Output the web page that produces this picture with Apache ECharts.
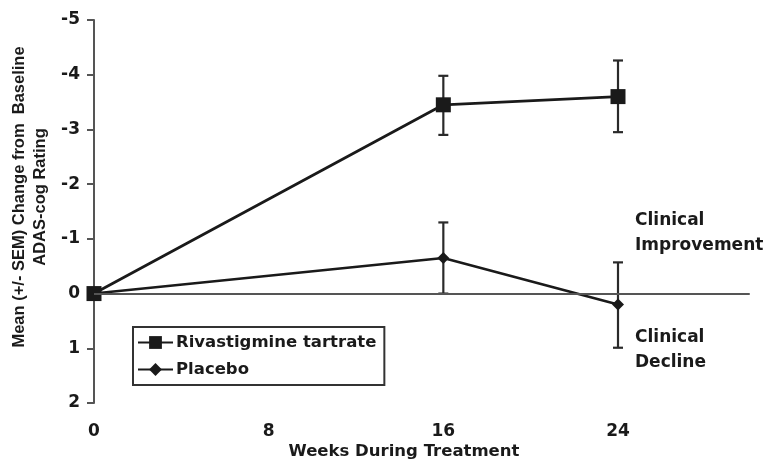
<!DOCTYPE html>
<html>
<head>
<meta charset="utf-8">
<script src="https://cdn.jsdelivr.net/npm/echarts@6/dist/echarts.min.js"></script>
<style>html,body{margin:0;padding:0;background:#fff}#c{width:772px;height:461px}</style>
</head>
<body>
<div id="c"></div>
<script>
// ---- data ----
var weeks = [0, 16, 24];
var xTicks = [0, 8, 16, 24];
var yTicks = [-5, -4, -3, -2, -1, 0, 1, 2];
var seriesNames = ['Rivastigmine tartrate', 'Placebo'];
var rivMean = [0, -3.45, -3.6];
var rivErrTop = [null, -3.98, -4.26];
var rivErrBottom = [null, -2.9, -2.95];
var plaMean = [0, -0.65, 0.2];
var plaErrTop = [null, -1.3, -0.57];
var plaErrBottom = [null, 0.0, 0.99];
var yAxisTitle = ['Mean (+/- SEM) Change from  Baseline', 'ADAS-cog Rating'];
var xAxisTitle = 'Weeks During Treatment';
var noteUp = ['Clinical', 'Improvement'];
var noteDown = ['Clinical', 'Decline'];

function pairs(xs, ys) { return xs.map(function (x, i) { return [x, ys[i]]; }); }
function errData(xs, top, bot) {
  var out = [];
  xs.forEach(function (x, i) { if (top[i] != null) out.push([x, top[i], bot[i]]); });
  return out;
}
function errRender(params, api) {
  var x = api.value(0);
  var p1 = api.coord([x, api.value(1)]);
  var p2 = api.coord([x, api.value(2)]);
  var w = 5;
  var st = { stroke: '#2a2a2a', lineWidth: 2.2 };
  return {
    type: 'group',
    children: [
      { type: 'line', shape: { x1: p1[0], y1: p1[1], x2: p2[0], y2: p2[1] }, style: st },
      { type: 'line', shape: { x1: p1[0] - w, y1: p1[1], x2: p1[0] + w, y2: p1[1] }, style: st },
      { type: 'line', shape: { x1: p2[0] - w, y1: p2[1], x2: p2[0] + w, y2: p2[1] }, style: st }
    ]
  };
}

var chart = echarts.init(document.getElementById('c'), null, { renderer: 'canvas' });
var boldFont = 'DejaVu Sans';
chart.setOption({
  animation: false,
  backgroundColor: '#fff',
  grid: { left: 94, top: 20, right: 23, bottom: 58, containLabel: false },
  xAxis: {
    type: 'value', min: xTicks[0], max: 30, interval: 8,
    axisLine: { lineStyle: { color: '#555', width: 2 } },
    axisTick: { show: false },
    splitLine: { show: false },
    axisLabel: { margin: 20, showMaxLabel: false, fontFamily: boldFont, fontWeight: 'bold', fontSize: 17, color: '#1a1a1a' }
  },
  yAxis: {
    type: 'value', inverse: true, min: yTicks[0], max: yTicks[yTicks.length - 1], interval: 1,
    axisLine: { show: true, lineStyle: { color: '#555', width: 2 } },
    axisTick: { show: true, inside: false, length: 7, lineStyle: { color: '#555', width: 2 } },
    splitLine: { show: false },
    axisLabel: { margin: 14, fontFamily: boldFont, fontWeight: 'bold', fontSize: 17, color: '#1a1a1a' }
  },
  legend: {
    data: seriesNames,
    orient: 'vertical',
    left: 133, top: 327,
    padding: [7, 8, 7, 4],
    itemWidth: 35, itemHeight: 16, itemGap: 10,
    borderColor: '#333', borderWidth: 2,
    backgroundColor: '#fff',
    textStyle: { fontFamily: boldFont, fontWeight: 'bold', fontSize: 16.5, color: '#1a1a1a', padding: [0, 0, 0, -2] }
  },
  series: [
    {
      type: 'custom', name: 'errPla', renderItem: errRender,
      data: errData(weeks, plaErrTop, plaErrBottom), z: 1, silent: true
    },
    {
      type: 'custom', name: 'errRiv', renderItem: errRender,
      data: errData(weeks, rivErrTop, rivErrBottom), z: 1, silent: true
    },
    {
      name: seriesNames[1], type: 'line', data: pairs(weeks, plaMean), z: 3,
      symbol: 'diamond', symbolSize: 12, showAllSymbol: true,
      lineStyle: { color: '#1a1a1a', width: 2.6 },
      itemStyle: { color: '#1a1a1a' },
      markLine: {
        silent: true, symbol: ['none', 'none'], label: { show: false },
        lineStyle: { color: '#555', width: 2, type: 'solid' },
        data: [{ yAxis: 0 }]
      }
    },
    {
      name: seriesNames[0], type: 'line', data: pairs(weeks, rivMean), z: 4,
      symbol: 'rect', symbolSize: 15, showAllSymbol: true,
      lineStyle: { color: '#1a1a1a', width: 2.8 },
      itemStyle: { color: '#1a1a1a' }
    }
  ],
  graphic: [
    {
      type: 'text', x: 30, y: 197, rotation: Math.PI / 2,
      style: {
        text: yAxisTitle.join('\n'), fill: '#1a1a1a', align: 'center', verticalAlign: 'middle',
        font: 'bold 16.5px "Liberation Sans", Arial, sans-serif', lineHeight: 21
      }
    },
    {
      type: 'text', x: 404, y: 452,
      style: {
        text: xAxisTitle, fill: '#1a1a1a', align: 'center', verticalAlign: 'middle',
        font: 'bold 16.5px "DejaVu Sans", sans-serif'
      }
    },
    {
      type: 'text', x: 635, y: 208,
      style: { text: noteUp.join('\n'), fill: '#1a1a1a', font: 'bold 17px "DejaVu Sans", sans-serif', lineHeight: 25 }
    },
    {
      type: 'text', x: 635, y: 325,
      style: { text: noteDown.join('\n'), fill: '#1a1a1a', font: 'bold 17px "DejaVu Sans", sans-serif', lineHeight: 25 }
    }
  ]
});
</script>
</body>
</html>
